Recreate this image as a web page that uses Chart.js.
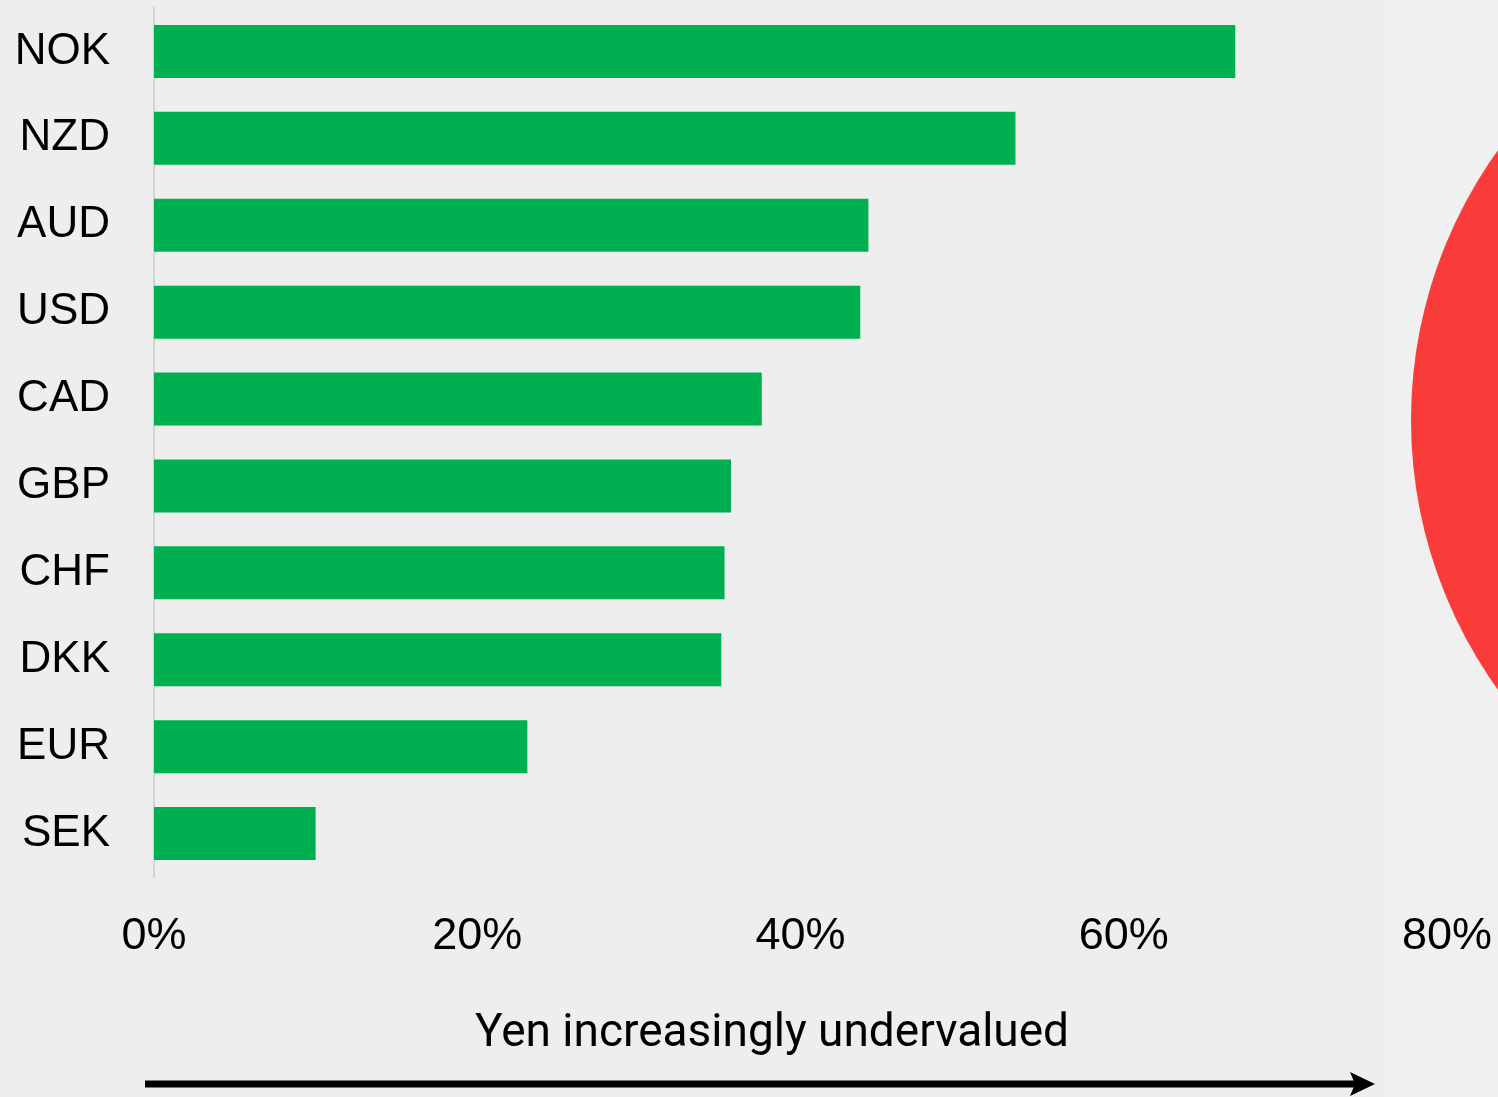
<!DOCTYPE html>
<html>
<head>
<meta charset="utf-8">
<script src="https://cdn.jsdelivr.net/npm/chart.js@4"></script>
<style>
  html, body { margin: 0; padding: 0; width: 1498px; height: 1097px; overflow: hidden; background: #eeeeee; }
  #wrap { position: relative; width: 1498px; height: 1097px; }
  #flagside { position: absolute; left: 1386px; top: 0; width: 112px; height: 1097px; background: #f0f0f0; }
  #sun { position: absolute; left: 1411px; top: -42px; width: 924px; height: 924px; border-radius: 50%; background: #f93c3a; }
  canvas { position: absolute; left: 0; top: 0; }
</style>
</head>
<body>
<div id="wrap">
  <div id="flagside"></div>
  <div id="sun"></div>
  <canvas id="c" width="1498" height="1097"></canvas>
</div>
<script>
const categories = ["NOK", "NZD", "AUD", "USD", "CAD", "GBP", "CHF", "DKK", "EUR", "SEK"];
const undervaluation = [66.9, 53.3, 44.2, 43.7, 37.6, 35.7, 35.3, 35.1, 23.1, 10.0];
const xTicks = [0, 20, 40, 60, 80];
const axisTitle = "Yen increasingly undervalued";

const fontFamily = "'Liberation Sans', Arial, sans-serif";

const arrowPlugin = {
  id: 'arrowTitle',
  afterDraw(chart) {
    const ctx = chart.ctx;
    const a = chart.chartArea;
    ctx.save();
    ctx.fillStyle = '#000';
    ctx.font = "46px Roboto, 'Noto Sans', sans-serif";
    ctx.textAlign = 'center';
    ctx.textBaseline = 'middle';
    ctx.fillText(axisTitle, a.left + 618, a.bottom + 157);
    const y = a.bottom + 207;
    const x0 = a.left - 9, x1 = a.left + 1221;
    ctx.strokeStyle = '#000';
    ctx.lineWidth = 7;
    ctx.beginPath();
    ctx.moveTo(x0, y);
    ctx.lineTo(x1 - 20, y);
    ctx.stroke();
    ctx.beginPath();
    ctx.moveTo(x1, y);
    ctx.lineTo(x1 - 25, y - 12);
    ctx.lineTo(x1 - 20, y);
    ctx.lineTo(x1 - 25, y + 12);
    ctx.closePath();
    ctx.fillStyle = '#000';
    ctx.fill();
    ctx.restore();
  }
};

function zeroPad(scale) {
  scale.paddingLeft = 0; scale.paddingRight = 0;
  scale.paddingTop = 0; scale.paddingBottom = 0;
}

new Chart(document.getElementById('c'), {
  type: 'bar',
  data: {
    labels: categories,
    datasets: [{
      data: undervaluation,
      backgroundColor: '#00b050',
      borderWidth: 0,
      barPercentage: 0.61,
      categoryPercentage: 1.0
    }]
  },
  options: {
    indexAxis: 'y',
    responsive: false,
    animation: false,
    devicePixelRatio: 1,
    layout: { padding: { left: 0, right: 51, top: 8, bottom: 0 } },
    plugins: { legend: { display: false }, tooltip: { enabled: false }, title: { display: false } },
    scales: {
      x: {
        type: 'linear',
        min: 0,
        max: 80,
        afterBuildTicks(scale) { scale.ticks = xTicks.map(v => ({ value: v })); },
        afterFit(scale) { scale.height = 220; zeroPad(scale); },
        grid: { display: false, drawTicks: false },
        border: { display: false },
        ticks: {
          color: '#000',
          font: { family: fontFamily, size: 45 },
          padding: 33,
          maxRotation: 0,
          callback: v => v + '%'
        }
      },
      y: {
        type: 'category',
        afterFit(scale) { scale.width = 154; zeroPad(scale); },
        grid: { display: false, drawTicks: false },
        border: { display: true, color: '#d3d3d3', width: 2 },
        ticks: {
          color: '#000',
          font: { family: fontFamily, size: 44 },
          padding: 44
        }
      }
    }
  },
  plugins: [arrowPlugin]
});
</script>
</body>
</html>
